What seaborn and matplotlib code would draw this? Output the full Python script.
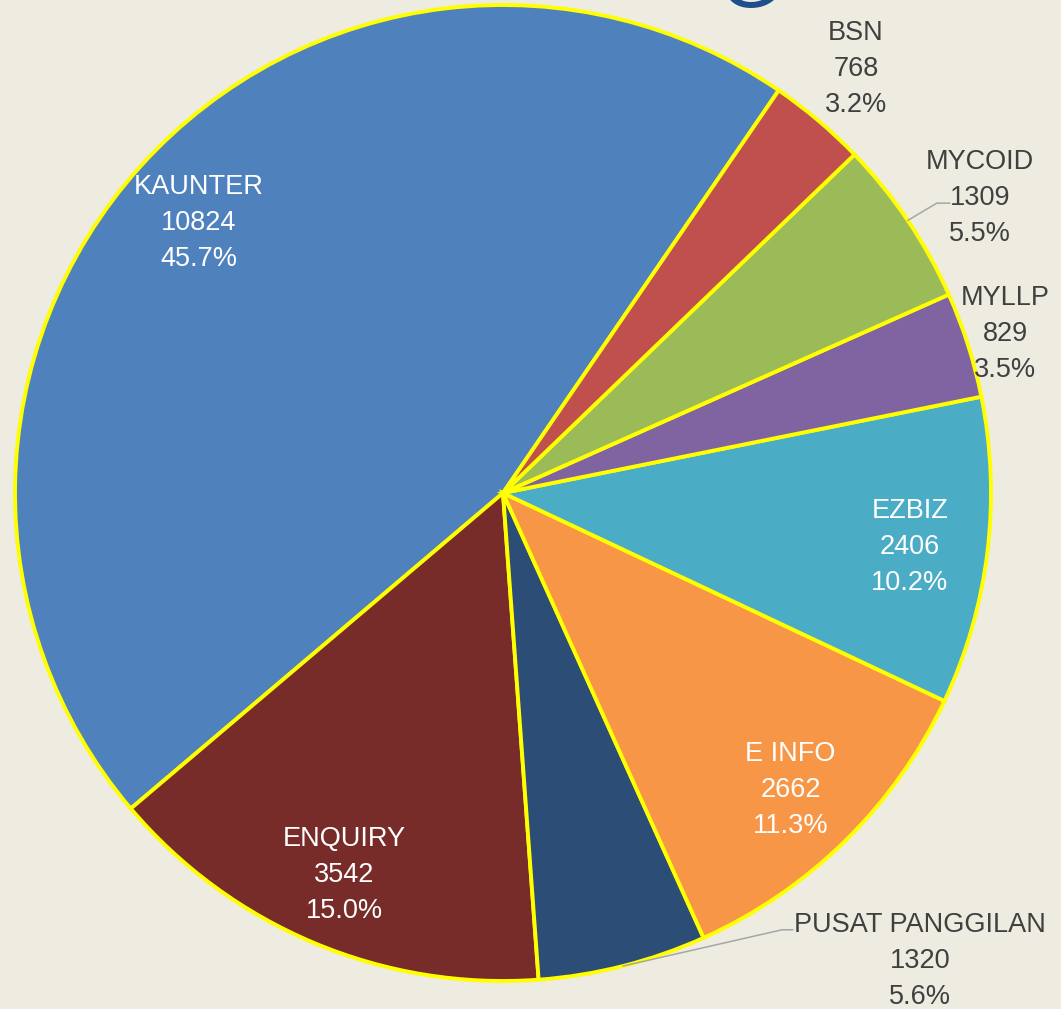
import numpy as np
import seaborn as sns
import matplotlib.pyplot as plt

sns.set_style('white')
plt.rcParams['font.family'] = ['Liberation Sans', 'DejaVu Sans']

# data, counter-clockwise from the KAUNTER/BSN edge
categories = ['KAUNTER', 'ENQUIRY', 'PUSAT PANGGILAN', 'E INFO', 'EZBIZ', 'MYLLP', 'MYCOID', 'BSN']
counts = [10824, 3542, 1320, 2662, 2406, 829, 1309, 768]
colors = ['#4F81BD', '#772C2A', '#2C4D75', '#F79646', '#4BACC6', '#8064A2', '#9BBB59', '#C0504D']

bg = '#EEEBE0'
fig = plt.figure(figsize=(10.61, 10.09), dpi=100, facecolor=bg)
ax = fig.add_axes([0, 0, 1, 1])
ax.set_facecolor(bg)

wedges, _ = ax.pie(counts, colors=colors, startangle=55.6, counterclock=True,
                   radius=1.0, center=(0, 0),
                   wedgeprops=dict(edgecolor='#FFFF00', linewidth=2.8))

ax.set_xlim(-503 / 488, (1061 - 503) / 488)
ax.set_ylim(-(1009 - 493) / 488, 493 / 488)
ax.set_aspect('auto')
ax.axis('off')

total = sum(counts)
fs = 19.5
ls = 1.5
dy = -0.009  # small nudge so the text blocks sit like the original
# labels placed outside the pie (x, y) in pie radius units
outside = {
    'BSN': (0.723, 0.877),
    'MYCOID': (0.977, 0.613),
    'MYLLP': (1.029, 0.334),
    'PUSAT PANGGILAN': (0.855, -0.951),
}
# leader line elbows
leaders = {
    'MYCOID': [(0.889, 0.594), (0.916, 0.594)],
    'PUSAT PANGGILAN': [(0.572, -0.895), (0.594, -0.895)],
}

for w, name, n in zip(wedges, categories, counts):
    mid = np.deg2rad((w.theta1 + w.theta2) / 2)
    txt = f'{name}\n{n}\n{n / total * 100:.1f}%'
    if name in outside:
        x, y = outside[name]
        ax.text(x, y + dy, txt, ha='center', va='center', fontsize=fs,
                color='#404040', linespacing=ls)
    else:
        r = 0.84
        ax.text(r * np.cos(mid), r * np.sin(mid) + dy, txt, ha='center', va='center',
                fontsize=fs, color='white', linespacing=ls)
    if name in leaders:
        pts = [(np.cos(mid), np.sin(mid))] + leaders[name]
        xs, ys = zip(*pts)
        ax.plot(xs, ys, color='#A6A6A6', lw=1.1)

# cut-off title letter at the top edge
fig.text(0.707, 1 - 7 / 1009, 'G', fontsize=58, color='#1F4E8C',
         ha='center', va='baseline')

fig.savefig('out.png', dpi=100, facecolor=bg)
